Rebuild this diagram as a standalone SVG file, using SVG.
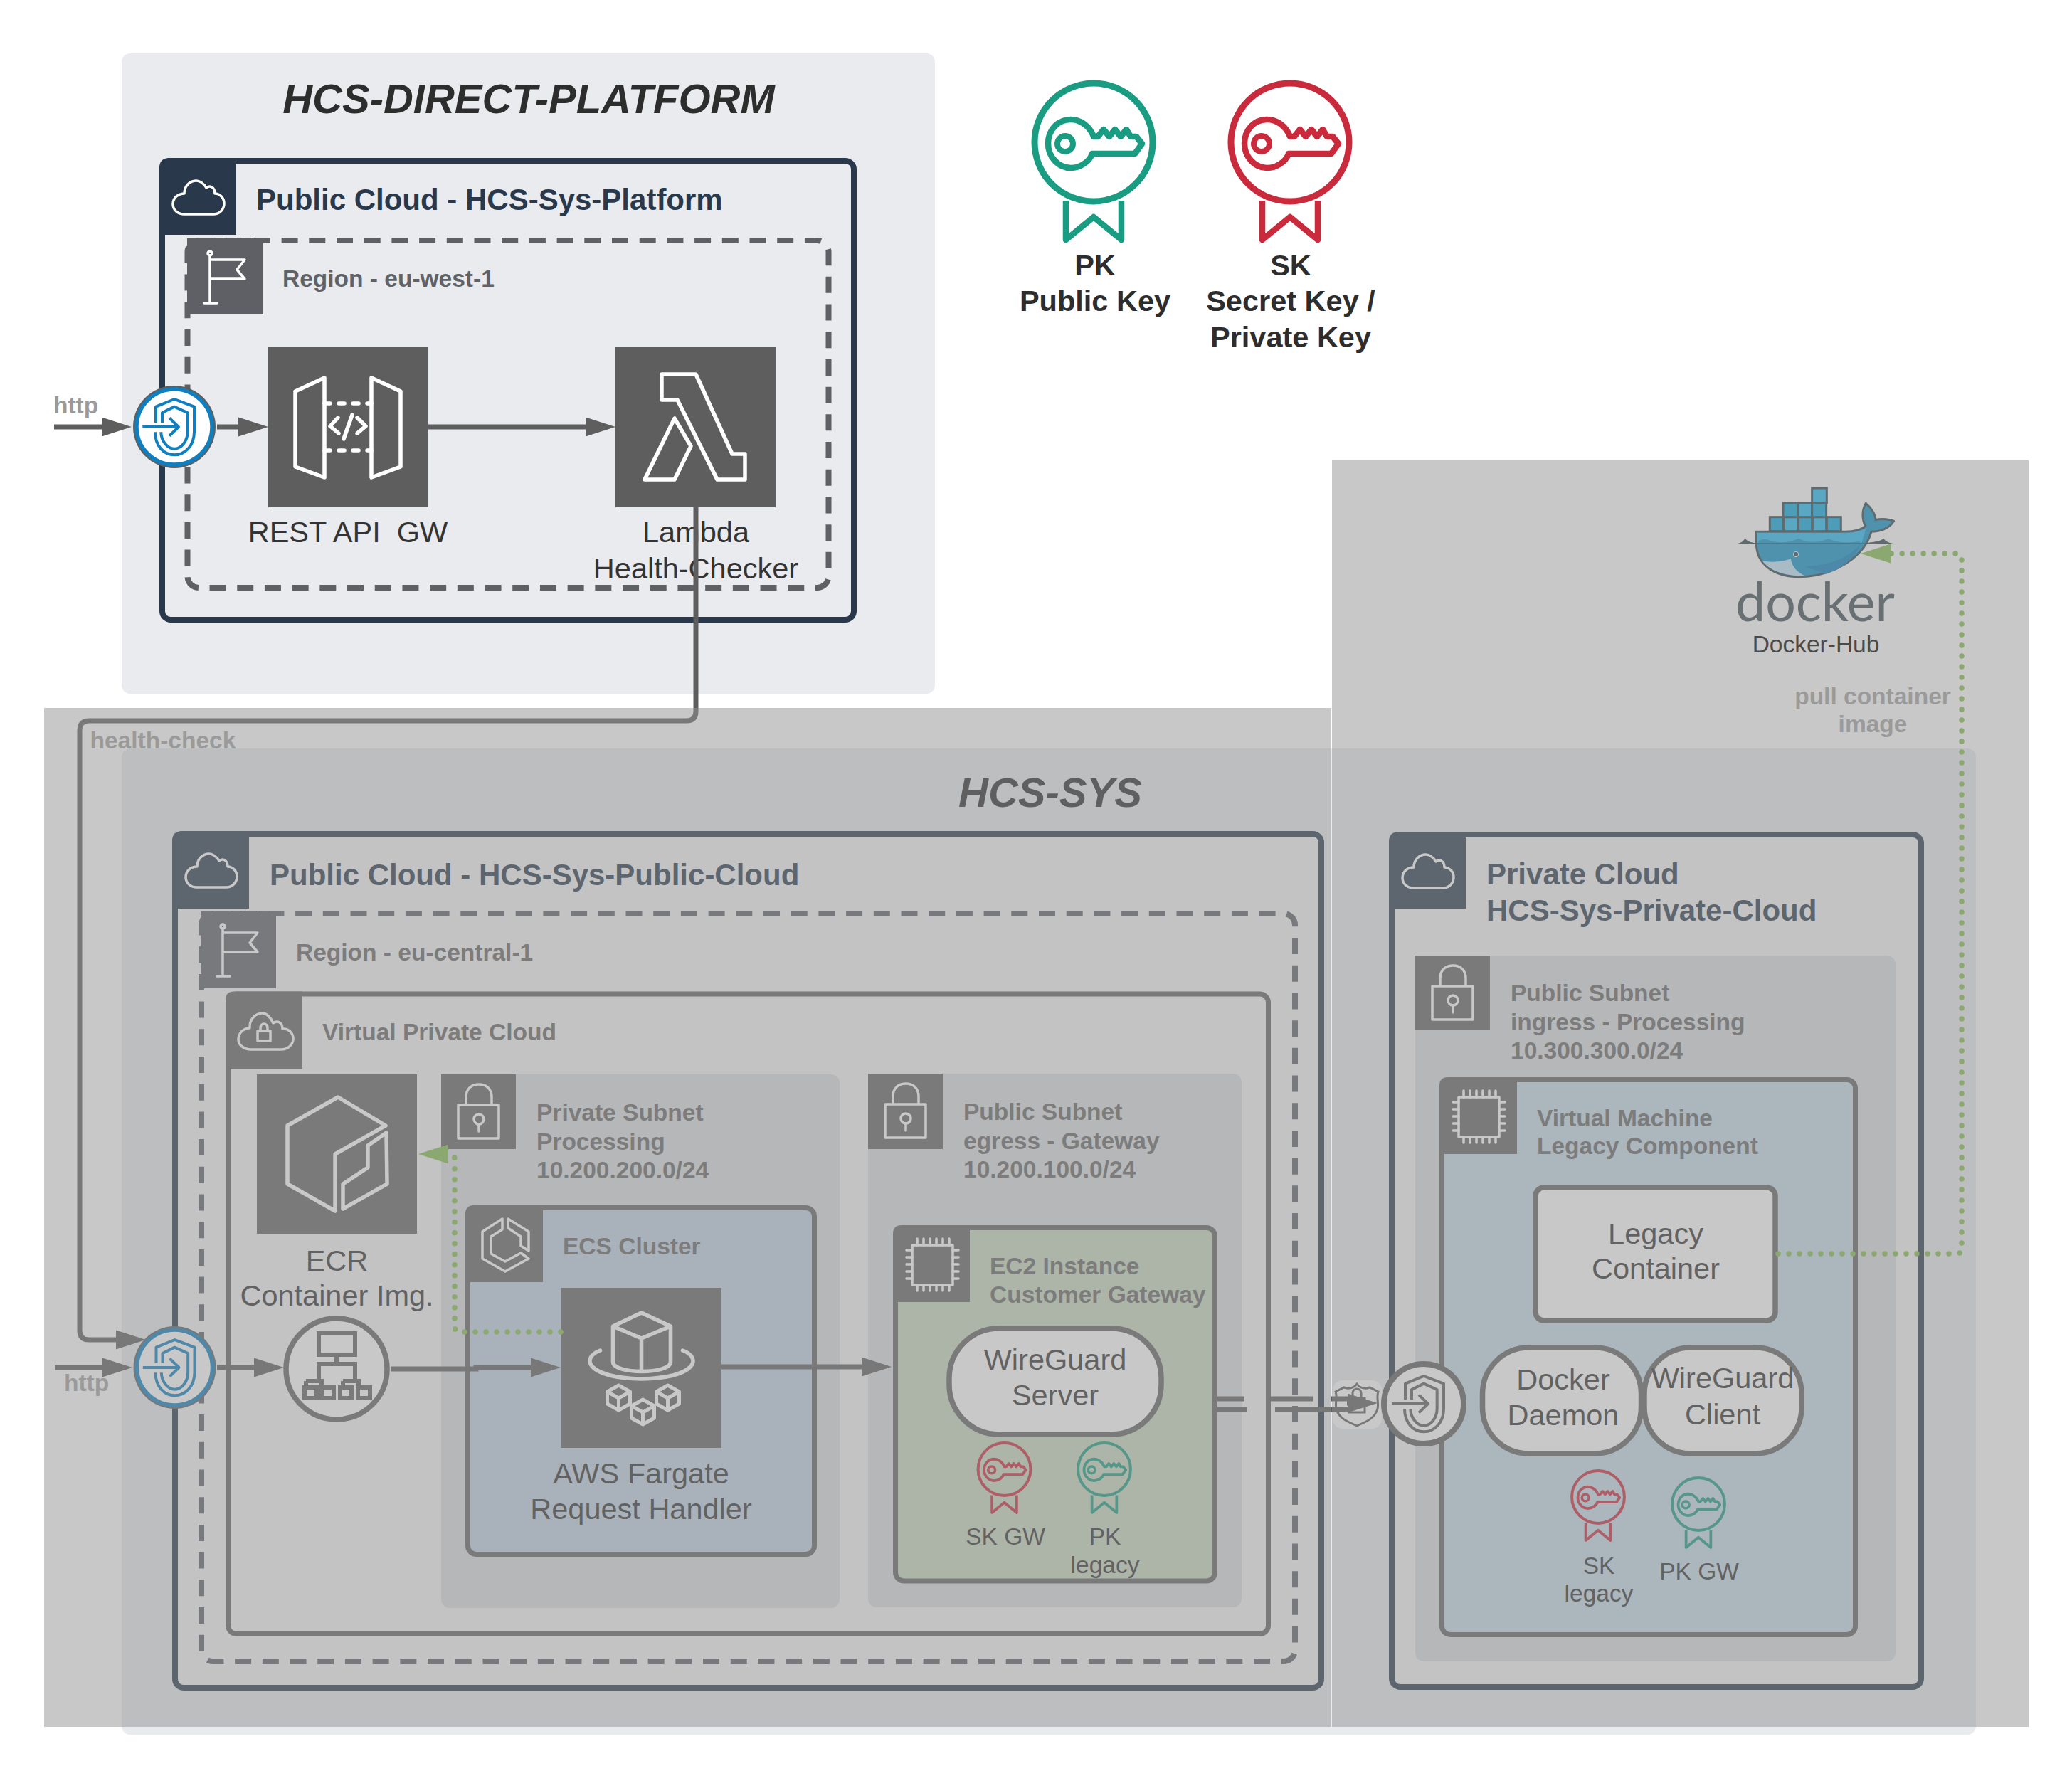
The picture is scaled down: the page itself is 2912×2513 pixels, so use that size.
<svg xmlns="http://www.w3.org/2000/svg" width="2912" height="2513" viewBox="0 0 2912 2513">
<style>
text{font-family:"Liberation Sans",Arial,sans-serif;fill:#333}
.b{font-weight:bold}
.title{font-size:58px;font-weight:bold;font-style:italic;fill:#2d2d2d;text-anchor:middle}
.h1{font-size:42px;font-weight:bold;fill:#5a5f66}
.h2{font-size:33.5px;font-weight:bold;fill:#666}
.lbl{font-size:41.5px;text-anchor:middle}
.sm{font-size:33.5px;text-anchor:middle}
.key{font-size:41.5px;font-weight:bold;text-anchor:middle;fill:#2d2d2d}
.conn{font-size:33.5px;font-weight:bold;fill:#9a9a9a}
.box{fill:none;stroke:#5e5e5e;stroke-width:8}
.sub{fill:#dbdcde}
.tile{fill:#636363}
.ic{fill:none;stroke:#fff;stroke-width:3.5;stroke-linejoin:round;stroke-linecap:round}
.ic5{fill:none;stroke:#fff;stroke-width:5.5;stroke-linejoin:round;stroke-linecap:round}
.pill{fill:#fff;stroke:#636363;stroke-width:7.5}
.line{fill:none;stroke:#5e5e5e;stroke-width:7}
.lineB{fill:none;stroke:#5e5e5e;stroke-width:7;marker-end:url(#arr)}
.dot{fill:none;stroke:#8aa86f;stroke-width:7.5;stroke-linecap:round;stroke-dasharray:0 15;marker-end:url(#arrG)}
.ov{fill:#919191;fill-opacity:.5}
.pan{fill:#e9ebef}
</style>
<defs>
<marker id="arr" markerUnits="userSpaceOnUse" markerWidth="44" markerHeight="30" refX="2" refY="14" orient="auto"><path d="M0 0.5L42 14L0 27.5Z" fill="#5e5e5e"/></marker>
<marker id="arrG" markerUnits="userSpaceOnUse" markerWidth="44" markerHeight="30" refX="1" refY="14" orient="auto"><path d="M0 0.5L42 14L0 27.5Z" fill="#8aa86f"/></marker>
<g id="cloud"><path class="ic" d="M34 79H76C85 79 91 72 91 64C91 56 85 50 78 50C78 40 70 38 66 42C62 35 56 32 52 32C42 32 35 40 35 50C26 50 19 56 19 65C19 73 26 79 34 79Z"/></g>
<g id="flag"><path class="ic" d="M32 24V91M24 91H42M32 30H81L70 44L81 57H32"/><circle class="ic" cx="32" cy="21" r="3"/></g>
<g id="lock"><path class="ic" d="M24 43H81V90H24ZM35 43V32C35 20 43 14 53 14C63 14 71 20 71 32V43"/><circle class="ic" cx="53" cy="63" r="7"/><path class="ic" d="M53 70V80"/></g>
<g id="cloudlock"><path class="ic" d="M36 82H78C88 82 95 75 95 67C95 58 88 52 80 53C80 43 72 41 67 45C63 36 57 31 52 31C42 31 33 40 34 52C25 52 18 59 18 68C18 76 26 82 36 82Z"/><path class="ic" d="M45 56H63V70H45ZM49 56V52C49 44 59 44 59 52V56"/></g>
<g id="chip"><path class="ic" d="M27 28H84V84H27Z"/><path class="ic" d="M34 28V19M43 28V19M52 28V19M61 28V19M70 28V19M79 28V19M34 84V92M43 84V92M52 84V92M61 84V92M70 84V92M79 84V92M27 35H19M27 45H19M27 55H19M27 65H19M27 75H19M84 35H92M84 45H92M84 55H92M84 65H92M84 75H92"/></g>
<g id="ecs"><path class="ic" d="M52 19L24 37V75L56 93L89 75L78 67L56 79L36 68V44L52 34ZM60 19L89 37V64L78 57V44L60 32Z"/></g>
<g id="apigw"><path class="ic5" d="M38 62L79 43V183L38 168ZM145 43L186 62V168L145 183Z"/><path class="ic5" d="M79 79H145M79 145H145" stroke-dasharray="8 12" stroke-linecap="butt"/><path class="ic5" d="M98 99L87 111L99 121M125 99L137 111L125 121M118 95L106 129"/></g>
<g id="lambda"><path class="ic5" d="M65 38H113L164 150H182V186H143L87 74H65ZM83 100L41 186H83L106 139Z"/></g>
<g id="ecr"><path class="ic5" d="M114 32L43 72V154L110 192V112L181 72ZM182 82L183 154L121 189V154L156 131V100Z"/></g>
<g id="fargate"><path class="ic5" d="M113 35L154 54V104C154 122 73 122 73 104V54ZM73 54L113 71L154 54M113 71V115"/><path class="ic5" d="M55 88C28 98 34 126 113 128C192 126 198 98 171 88"/>
<g id="cube"><path class="ic" style="stroke-width:5" d="M81 137L97 146V163L81 172L65 163V146ZM65 146L81 155L97 146M81 155V172"/></g><use href="#cube" x="69"/><use href="#cube" x="34" y="20"/></g>
<g id="shield"><g transform="scale(.3333) translate(-256,-300)" fill="none" stroke-width="12" stroke-linejoin="round"><path d="M178 282V215L256 183L340 215V320C340 380 300 418 256 418C212 418 175 380 175 322"/><path d="M205 282V240L256 215L312 240V320C312 360 285 392 256 392C228 392 200 360 200 322"/><path d="M122 300H272M235 262L274 300L235 338"/></g></g>
<g id="badge"><circle cx="0" cy="0" r="83" fill="none" stroke="currentColor" stroke-width="9"/><path d="M-39 82V137L0 105L39 137V82" fill="none" stroke="currentColor" stroke-width="8.5" stroke-linejoin="round"/><path d="M0 -8C-6 -24 -20 -32 -32 -32C-50 -32 -64 -18 -64 2C-64 20 -50 36 -32 36C-20 36 -6 28 -2 16H58L68 2L60 -8H52L46 -18L38 -8L30 -18L22 -8L14 -18L6 -8Z" fill="none" stroke="currentColor" stroke-width="8.5" stroke-linejoin="round"/><circle cx="-40" cy="2" r="11" fill="none" stroke="currentColor" stroke-width="8"/></g>
</defs>

<g id="panels">
<rect id="panel-platform" class="pan" x="171" y="75" width="1143" height="900" rx="12"/>
<rect id="panel-sys" class="pan" x="171" y="1052" width="2606" height="1386" rx="12"/>
</g>
<text class="title" x="743" y="159">HCS-DIRECT-PLATFORM</text>

<g id="public-cloud-platform">
<rect x="228" y="226" width="972" height="645" rx="12" fill="none" stroke="#29394b" stroke-width="8"/>
<path d="M224 330V236Q224 222 238 222H332V330Z" fill="#29394b"/>
<use href="#cloud" x="224" y="222"/>
<text class="h1" style="fill:#29394b" x="360" y="295">Public Cloud - HCS-Sys-Platform</text>
</g>
<g id="region-west">
<rect x="263.500" y="338" width="901" height="488" rx="16" fill="none" stroke="#5e6066" stroke-width="8" stroke-dasharray="23 15.700"/>
<rect x="263" y="335" width="107" height="107" fill="#5e6066"/>
<use href="#flag" x="263" y="335"/>
<text class="h2" style="fill:#5f6368" x="397" y="403">Region - eu-west-1</text>
</g>
<g id="api-gw">
<rect x="377" y="488" width="225" height="225" fill="#5e5e5e"/>
<use href="#apigw" x="377" y="488"/>
<text class="lbl" x="489" y="762" xml:space="preserve">REST API  GW</text>
</g>
<g id="lambda-node">
<rect x="865" y="488" width="225" height="225" fill="#5e5e5e"/>
<use href="#lambda" x="865" y="488"/>
<text class="lbl" x="978" y="762">Lambda</text>
<text class="lbl" x="978" y="813">Health-Checker</text>
</g>

<g id="pk-legend" style="color:#1a9c82">
<use href="#badge" x="1537" y="200"/>
<text class="key" x="1539" y="387">PK</text>
<text class="key" x="1539" y="437">Public Key</text>
</g>
<g id="sk-legend" style="color:#c92a3c">
<use href="#badge" x="1813" y="200"/>
<text class="key" x="1814" y="387">SK</text>
<text class="key" x="1814" y="437">Secret Key /</text>
<text class="key" x="1814" y="488">Private Key</text>
</g>

<text class="title" style="fill:#2d2d2d;font-size:58px" x="1476" y="1134">HCS-SYS</text>

<g id="public-cloud-sys">
<rect x="246" y="1172" width="1611" height="1200" rx="12" fill="#f4f5f7" stroke="#29394b" stroke-width="8"/>
<path d="M242 1277V1182Q242 1168 256 1168H350V1277Z" fill="#29394b"/>
<use href="#cloud" x="242" y="1168"/>
<text class="h1" style="fill:#29394b" x="379" y="1244">Public Cloud - HCS-Sys-Public-Cloud</text>
</g>
<g id="region-central">
<rect x="283" y="1284" width="1537" height="1051" rx="16" fill="none" stroke="#5e6066" stroke-width="8" stroke-dasharray="23 15.700"/>
<rect x="283" y="1281" width="105" height="108" fill="#5e6066"/>
<use href="#flag" x="281" y="1281"/>
<text class="h2" x="416" y="1350">Region - eu-central-1</text>
</g>
<g id="vpc">
<rect x="320.500" y="1397" width="1462" height="899.500" rx="12" fill="none" stroke="#636363" stroke-width="7"/>
<path d="M317 1502V1405Q317 1393.500 329 1393.500H425V1502Z" class="tile"/>
<use href="#cloudlock" x="317" y="1393"/>
<text class="h2" x="453" y="1462">Virtual Private Cloud</text>
</g>
<g id="ecr-node">
<rect x="361" y="1510" width="225" height="224" class="tile"/>
<use href="#ecr" x="361" y="1510"/>
<text class="lbl" x="473.500" y="1786">ECR</text>
<text class="lbl" x="473.500" y="1835">Container Img.</text>
</g>
<g id="subnet-private">
<rect class="sub" x="620" y="1510" width="560" height="750" rx="12"/>
<rect class="tile" x="620" y="1510" width="105" height="105"/>
<use href="#lock" x="620" y="1510"/>
<text class="h2" x="754" y="1575">Private Subnet</text>
<text class="h2" x="754" y="1616">Processing</text>
<text class="h2" x="754" y="1656">10.200.200.0/24</text>
</g>
<g id="ecs-cluster">
<rect x="657.500" y="1697.500" width="487" height="487" rx="12" fill="#c1d3e3" stroke="#636363" stroke-width="7"/>
<path d="M654 1802V1706Q654 1694 666 1694H763V1802Z" class="tile"/>
<use href="#ecs" x="654" y="1694"/>
<text class="h2" x="791" y="1763">ECS Cluster</text>
</g>
<g id="fargate-node">
<rect x="788.500" y="1810" width="225.500" height="225" class="tile"/>
<use href="#fargate" x="788.500" y="1810"/>
<text class="lbl" x="901" y="2085">AWS Fargate</text>
<text class="lbl" x="901" y="2135">Request Handler</text>
</g>
<g id="subnet-public">
<rect class="sub" x="1220" y="1509" width="525" height="750" rx="12"/>
<rect class="tile" x="1220" y="1509" width="105" height="106"/>
<use href="#lock" x="1220" y="1509"/>
<text class="h2" x="1354" y="1574">Public Subnet</text>
<text class="h2" x="1354" y="1615">egress - Gateway</text>
<text class="h2" x="1354" y="1655">10.200.100.0/24</text>
</g>
<g id="ec2">
<rect x="1258.500" y="1725.500" width="449" height="496.500" rx="12" fill="#c9d9c1" stroke="#636363" stroke-width="7"/>
<path d="M1255 1830V1734Q1255 1722 1267 1722H1363V1830Z" class="tile"/>
<use href="#chip" x="1255" y="1722"/>
<text class="h2" x="1391" y="1791">EC2 Instance</text>
<text class="h2" x="1391" y="1831">Customer Gateway</text>
</g>
<g id="wg-server">
<rect class="pill" x="1334" y="1867" width="298" height="149" rx="70"/>
<text class="lbl" x="1483" y="1925">WireGuard</text>
<text class="lbl" x="1483" y="1975">Server</text>
</g>
<g id="sk-gw" style="color:#c92a3c">
<use href="#badge" transform="translate(1411.500 2065) scale(.445)"/>
<text class="sm" x="1413" y="2171">SK GW</text>
</g>
<g id="pk-legacy" style="color:#1a9c82">
<use href="#badge" transform="translate(1552 2065) scale(.445)"/>
<text class="sm" x="1553" y="2171">PK</text>
<text class="sm" x="1553" y="2211">legacy</text>
</g>

<g id="private-cloud">
<rect x="1956" y="1173" width="744" height="1198" rx="12" fill="#f4f5f7" stroke="#29394b" stroke-width="8"/>
<path d="M1952 1277V1183Q1952 1169 1966 1169H2060V1277Z" fill="#29394b"/>
<use href="#cloud" x="1952" y="1169"/>
<text class="h1" style="fill:#29394b" x="2089" y="1243">Private Cloud</text>
<text class="h1" style="fill:#29394b" x="2089" y="1294">HCS-Sys-Private-Cloud</text>
</g>
<g id="subnet-ingress">
<rect class="sub" x="1989" y="1343" width="675" height="992" rx="12"/>
<rect class="tile" x="1989" y="1343" width="105" height="105"/>
<use href="#lock" x="1989" y="1343"/>
<text class="h2" x="2123" y="1407">Public Subnet</text>
<text class="h2" x="2123" y="1448">ingress - Processing</text>
<text class="h2" x="2123" y="1488">10.300.300.0/24</text>
</g>
<g id="vm">
<rect x="2026.500" y="1517.500" width="581" height="780" rx="12" fill="#c5dbe9" stroke="#636363" stroke-width="7"/>
<path d="M2023 1622V1526Q2023 1514 2035 1514H2132V1622Z" class="tile"/>
<use href="#chip" x="2023" y="1514"/>
<text class="h2" x="2160" y="1583">Virtual Machine</text>
<text class="h2" x="2160" y="1622">Legacy Component</text>
</g>
<g id="legacy-container">
<rect class="pill" x="2158" y="1669" width="337" height="187" rx="12"/>
<text class="lbl" x="2327" y="1748">Legacy</text>
<text class="lbl" x="2327" y="1797">Container</text>
</g>
<g id="docker-daemon">
<rect class="pill" x="2083.500" y="1894" width="223" height="149" rx="65"/>
<text class="lbl" x="2197" y="1953">Docker</text>
<text class="lbl" x="2197" y="2003">Daemon</text>
</g>
<g id="wg-client">
<rect class="pill" x="2311" y="1894" width="221" height="149" rx="65"/>
<text class="lbl" x="2421" y="1951">WireGuard</text>
<text class="lbl" x="2421" y="2002">Client</text>
</g>
<g id="sk-legacy" style="color:#c92a3c">
<use href="#badge" transform="translate(2246 2104) scale(.445)"/>
<text class="sm" x="2247" y="2212">SK</text>
<text class="sm" x="2247" y="2251">legacy</text>
</g>
<g id="pk-gw" style="color:#1a9c82">
<use href="#badge" transform="translate(2387 2114) scale(.445)"/>
<text class="sm" x="2388" y="2220">PK GW</text>
</g>

<g id="vpn-gateway">
<rect x="1873" y="1940" width="69" height="68" rx="14" fill="#fff"/>
<path d="M1907 1945C1912 1952 1920 1952 1925 1950L1937 1956C1934 1964 1938 1972 1936 1980C1932 1995 1917 1999 1907 2004C1897 1999 1882 1995 1878 1980C1876 1972 1880 1964 1877 1956L1889 1950C1894 1952 1902 1952 1907 1945Z" fill="none" stroke="#5e5e5e" stroke-width="3"/>
<path d="M1896 1965H1918V1985H1896ZM1901 1965V1958C1901 1950 1913 1950 1913 1958V1965" fill="none" stroke="#5e5e5e" stroke-width="3"/>
</g>

<g id="connectors">
<path class="lineB" d="M76 600H145"/>
<path class="lineB" d="M305 600H337"/>
<path class="lineB" d="M602 600H825"/>
<path class="lineB" d="M978 713V1000Q978 1013 965 1013H125Q112 1013 112 1026V1870Q112 1883 125 1883H165"/>
<path class="lineB" d="M77 1922H146"/>
<path class="lineB" d="M305 1922H359"/>
<path class="lineB" d="M549 1924H669V1922H748"/>
<path class="lineB" d="M1014 1921H1213"/>
<path class="line" d="M1711 1966H1749M1783 1966H1845M1871 1966H1900"/>
<path class="line" d="M1711 1981H1753M1792 1981H1895"/>
<path class="line" style="marker-end:url(#arr)" d="M1893 1972H1896"/>
</g>

<g id="lb-platform">
<circle cx="245" cy="600" r="58" fill="#5e5e5e"/>
<circle cx="245" cy="600" r="53" fill="#fff" stroke="#0f7fc0" stroke-width="5.500"/>
<use href="#shield" x="245" y="600" stroke="#0f7fc0"/>
</g>
<g id="lb-sys">
<circle cx="245.500" cy="1922" r="58" fill="#5e5e5e"/>
<circle cx="245.500" cy="1922" r="53" fill="#fff" stroke="#0f7fc0" stroke-width="5.500"/>
<use href="#shield" x="245.500" y="1922" stroke="#0f7fc0"/>
</g>
<g id="alb">
<circle cx="473" cy="1924" r="71" fill="#fff" stroke="#636363" stroke-width="7.500"/>
<path d="M448 1874H499V1904H448ZM473 1904V1917M448 1941V1917H499V1941M430 1941H452V1951M430 1951M430 1941V1951M482 1941H504V1951M482 1951V1941" fill="none" stroke="#636363" stroke-width="6"/>
<path d="M428 1950H445V1965H428ZM452 1950H469V1965H452ZM478 1950H494V1965H478ZM503 1950H520V1965H503Z" fill="none" stroke="#636363" stroke-width="6"/>
</g>
<g id="lb-private">
<circle cx="2001" cy="1973" r="56" fill="#fff" stroke="#5e5e5e" stroke-width="8"/>
<use href="#shield" x="2001" y="1973" stroke="#5e5e5e"/>
</g>

<g id="overlays">
<rect class="ov" x="62" y="995" width="1809" height="1432"/>
<rect class="ov" x="1872" y="647" width="979" height="1780"/>
</g>

<g id="docker-hub">
<g transform="translate(2400 660) scale(.3333)">
<path d="M205 262H580C620 262 655 250 665 238C650 210 650 170 667 142C695 165 708 195 708 212C735 205 770 210 785 217C765 250 725 262 690 262C660 370 530 452 385 452C280 452 205 400 205 310Z" fill="#4f92ae" stroke="#606b70" stroke-width="9" stroke-linejoin="round"/>
<path d="M209 266H590C620 266 650 258 668 246C660 275 655 290 650 310H209Z" fill="#5aa6c3"/>
<path d="M214 300C240 290 250 295 265 300C300 310 340 310 385 290C420 310 460 310 510 292C550 310 590 310 640 302L650 320H214Z" fill="#4f92ae"/>
<path d="M118 313C145 310 150 300 158 290C168 305 190 308 205 310H670C690 305 725 305 742 290C750 305 770 310 790 313Z" fill="#606b70"/>
<path d="M650 305C600 370 530 400 410 410L500 440C560 420 620 380 650 305Z" fill="#4c89a8"/>
<path d="M230 385C280 395 330 385 350 375C355 410 380 435 410 448C320 450 260 425 230 385Z" fill="#a9bcc5"/>
<circle cx="372" cy="357" r="11" fill="#5a6a70" stroke="#c0c8cc" stroke-width="3"/>
<g fill="#4d9db8" stroke="#606b70" stroke-width="9">
<rect x="262" y="200" width="56" height="60"/><rect x="322" y="200" width="58" height="60" fill="#5aa7c4"/><rect x="382" y="200" width="58" height="60"/><rect x="442" y="200" width="58" height="60" fill="#5aa7c4"/><rect x="502" y="200" width="60" height="60"/>
<rect x="318" y="140" width="62" height="60"/><rect x="380" y="140" width="60" height="60" fill="#5aa7c4"/><rect x="440" y="140" width="60" height="60"/>
<rect x="440" y="78" width="62" height="62" fill="#5aa7c4"/>
</g>
</g>
<text x="2439" y="873" textLength="224" lengthAdjust="spacingAndGlyphs" style="font-family:Lato,'Noto Sans',sans-serif;font-size:76px;fill:#687074">docker</text>
<text class="sm" style="fill:#4a4a4a" x="2552" y="917">Docker-Hub</text>
</g>

<g id="connectors-top">
<path class="dot" d="M2499 1762H2750Q2757 1762 2757 1755V785Q2757 778 2750 778H2656"/>
<path class="dot" d="M788 1872H647Q639 1872 639 1864V1630Q639 1622 631 1622H629"/>
</g>
<g id="connector-labels">
<text class="conn" x="75" y="581">http</text>
<text class="conn" x="90" y="1955">http</text>
<text class="conn" x="126.500" y="1052">health-check</text>
<text class="conn" text-anchor="middle" x="2632" y="990">pull container</text>
<text class="conn" text-anchor="middle" x="2632" y="1029">image</text>
</g>
</svg>
